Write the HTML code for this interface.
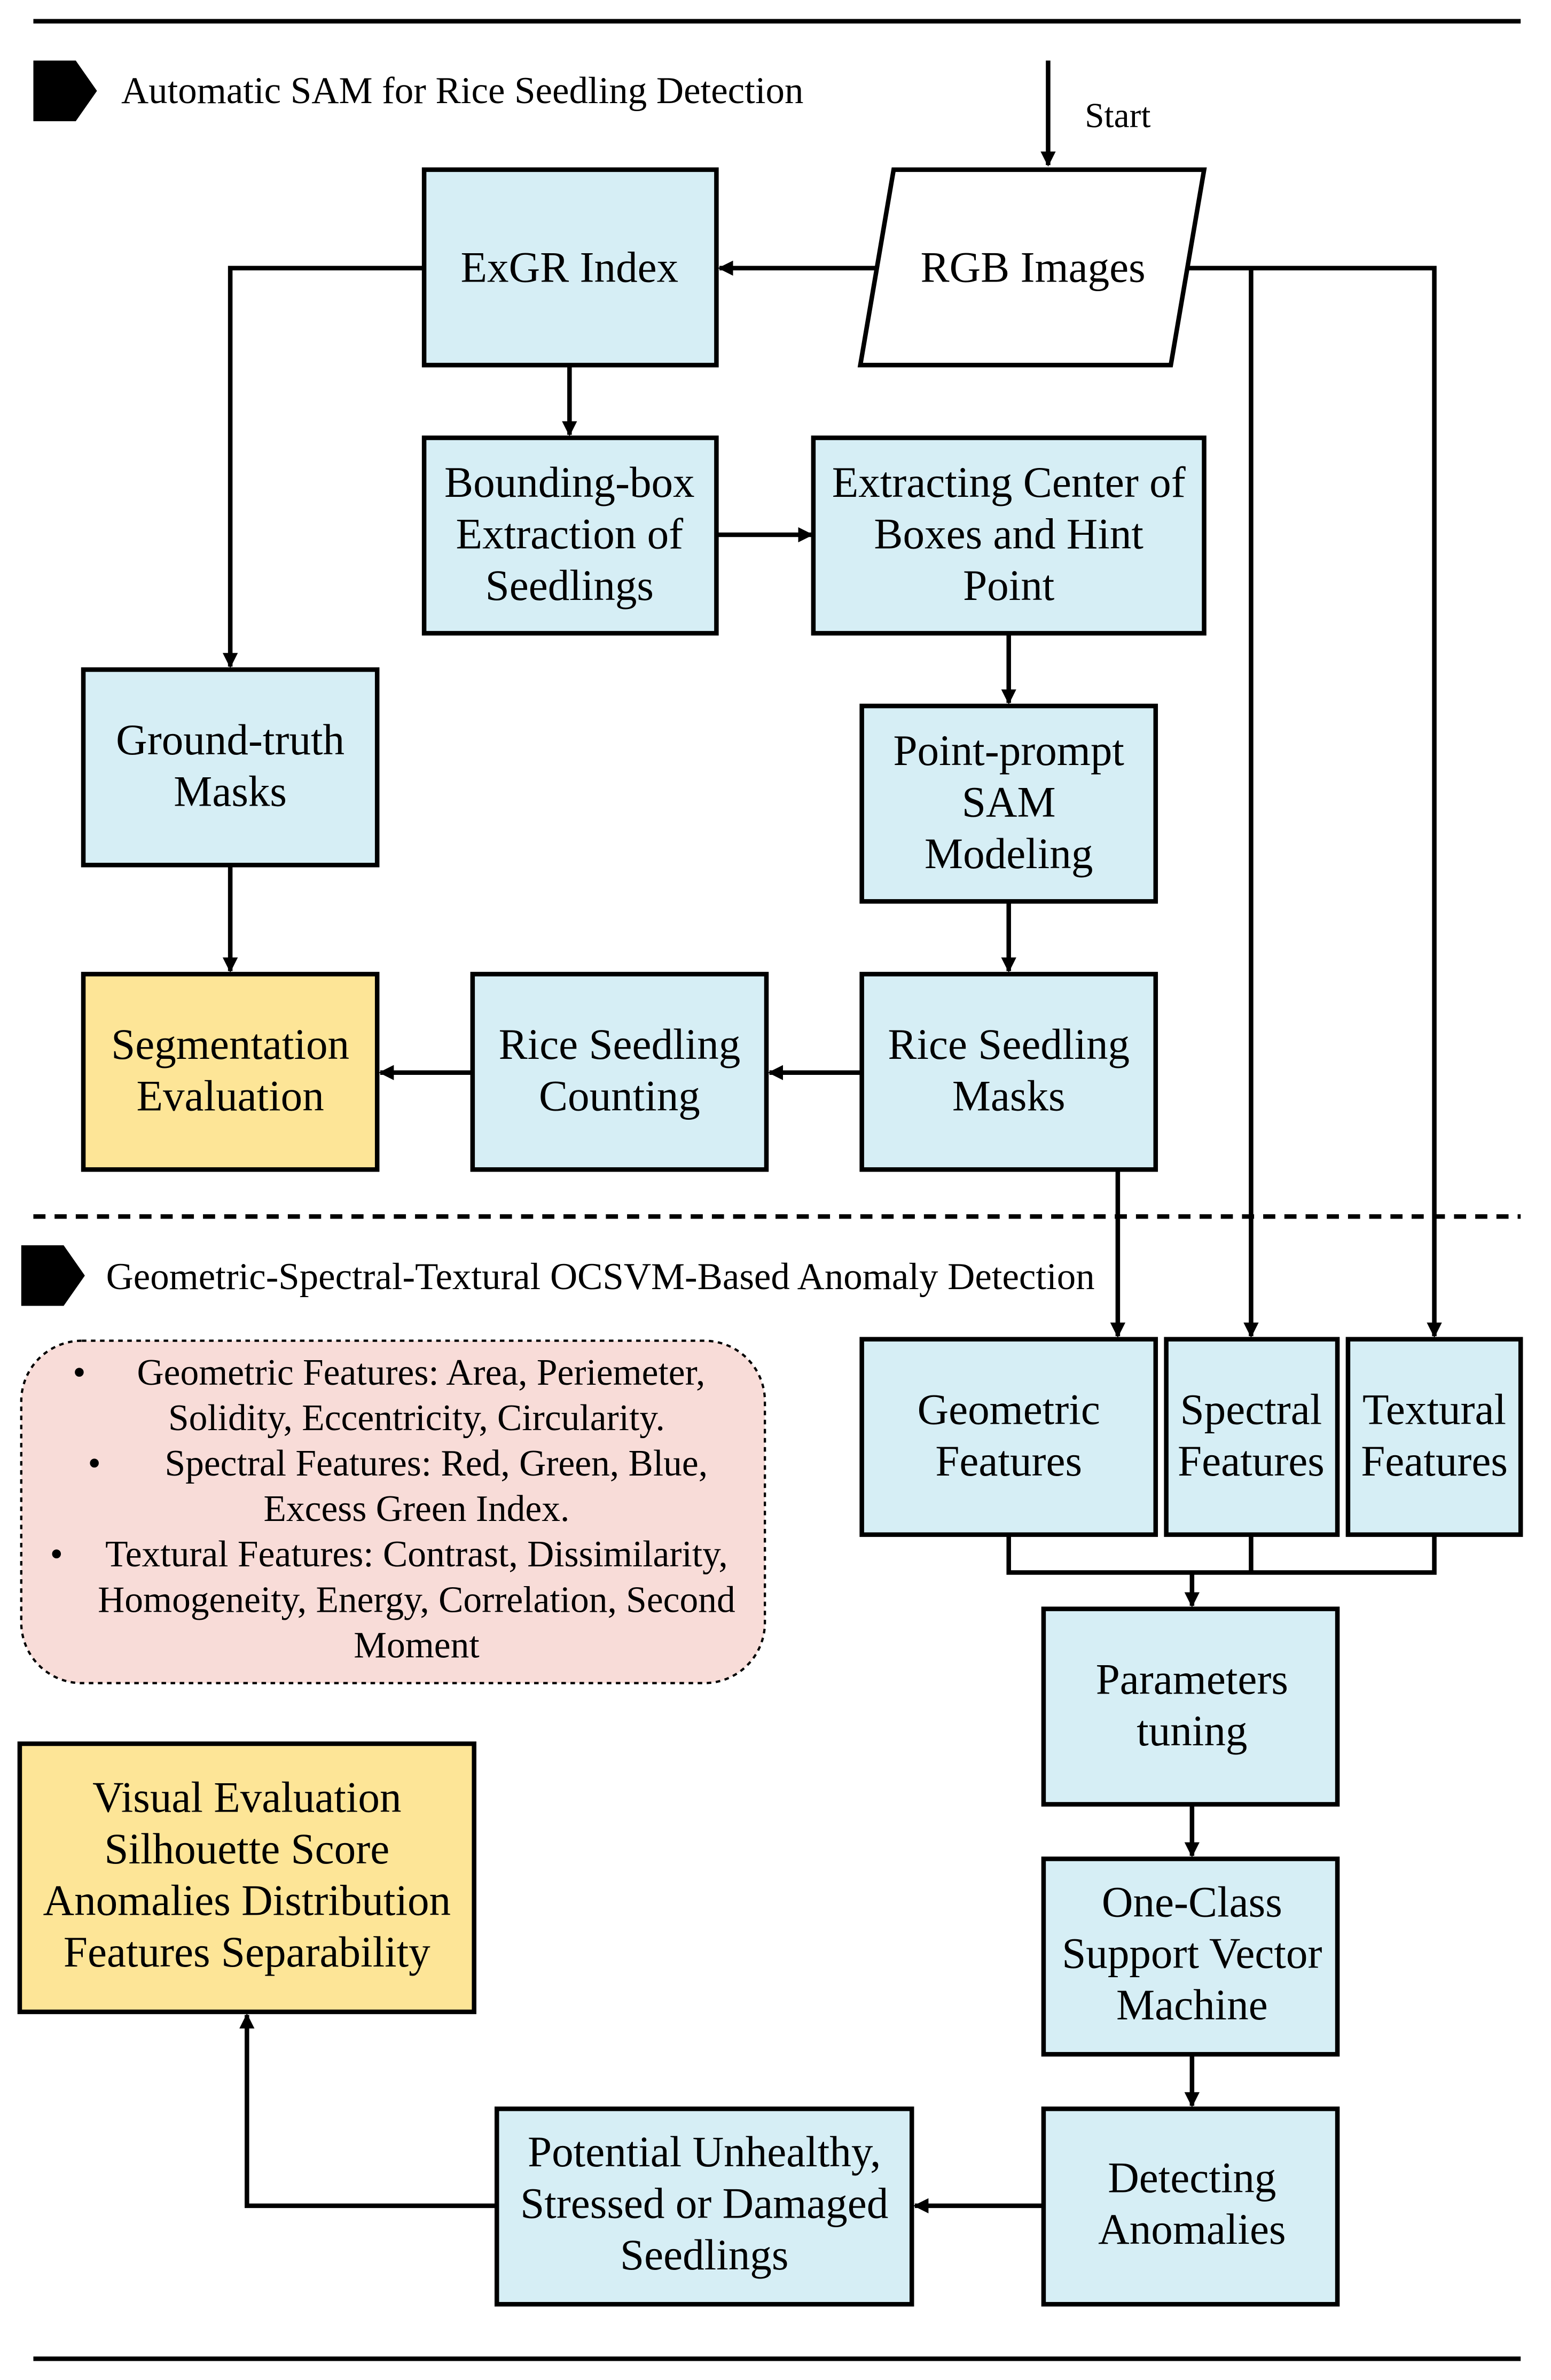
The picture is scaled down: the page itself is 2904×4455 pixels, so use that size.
<!DOCTYPE html>
<html><head><meta charset="utf-8"><style>
html,body{margin:0;padding:0;background:#fff;}
svg{display:block;}
text{font-family:"Liberation Serif",serif;fill:#000;}
.b{font-size:28.6px;text-anchor:middle;}
.s{font-size:24.5px;text-anchor:middle;}
.d{font-size:24.5px;}
</style></head><body>
<svg width="2904" height="4455" viewBox="0 0 1024 1571" xmlns="http://www.w3.org/2000/svg">
<defs><marker id="a" markerWidth="10" markerHeight="10" refX="9" refY="5" orient="auto" markerUnits="userSpaceOnUse"><path d="M0,0 L10,5 L0,10 z" fill="#000"/></marker></defs>
<rect width="1024" height="1571" fill="#fff"/>
<line x1="22" y1="14" x2="1004" y2="14" stroke="#000" stroke-width="3"/>
<line x1="22" y1="1557" x2="1004" y2="1557" stroke="#000" stroke-width="3"/>
<line x1="22" y1="803" x2="1004" y2="803" stroke="#000" stroke-width="3" stroke-dasharray="8,6"/>
<polygon points="22,40 50,40 64,60 50,80 22,80" fill="#000"/>
<text x="80" y="68" style="font-size:25px">Automatic SAM for Rice Seedling Detection</text>
<polygon points="14,822 42,822 56,842 42,862 14,862" fill="#000"/>
<text x="70" y="851" style="font-size:25px">Geometric-Spectral-Textural OCSVM-Based Anomaly Detection</text>
<g stroke="#000" stroke-width="3" fill="none">
<line x1="692" y1="40" x2="692" y2="109" marker-end="url(#a)"/>
<line x1="580" y1="177" x2="475" y2="177" marker-end="url(#a)"/>
<polyline points="280,177 152,177 152,440" marker-end="url(#a)"/>
<polyline points="785,177 947,177 947,882" marker-end="url(#a)"/>
<line x1="826" y1="177" x2="826" y2="882" marker-end="url(#a)"/>
<line x1="376" y1="241" x2="376" y2="287" marker-end="url(#a)"/>
<line x1="473" y1="353" x2="536" y2="353" marker-end="url(#a)"/>
<line x1="666" y1="418" x2="666" y2="464" marker-end="url(#a)"/>
<line x1="666" y1="595" x2="666" y2="641" marker-end="url(#a)"/>
<line x1="152" y1="571" x2="152" y2="641" marker-end="url(#a)"/>
<line x1="569" y1="708" x2="508" y2="708" marker-end="url(#a)"/>
<line x1="312" y1="708" x2="251" y2="708" marker-end="url(#a)"/>
<line x1="738" y1="772" x2="738" y2="882" marker-end="url(#a)"/>
<polyline points="666,1013 666,1038 947,1038 947,1013"/>
<line x1="826" y1="1013" x2="826" y2="1038"/>
<line x1="787" y1="1038" x2="787" y2="1060" marker-end="url(#a)"/>
<line x1="787" y1="1191" x2="787" y2="1225" marker-end="url(#a)"/>
<line x1="787" y1="1356" x2="787" y2="1390" marker-end="url(#a)"/>
<line x1="689" y1="1456" x2="604" y2="1456" marker-end="url(#a)"/>
<polyline points="328,1456 163,1456 163,1330" marker-end="url(#a)"/>
</g>
<g stroke="#000" stroke-width="3" fill="#d6eef5">
<polygon points="590,112 795,112 773,241 568,241" fill="#fff"/>
<rect x="280" y="112" width="193" height="129"/>
<rect x="280" y="289" width="193" height="129"/>
<rect x="537" y="289" width="258" height="129"/>
<rect x="569" y="466" width="194" height="129"/>
<rect x="55" y="442" width="194" height="129"/>
<rect x="55" y="643" width="194" height="129" fill="#fde597"/>
<rect x="312" y="643" width="194" height="129"/>
<rect x="569" y="643" width="194" height="129"/>
<rect x="569" y="884" width="194" height="129"/>
<rect x="770" y="884" width="113" height="129"/>
<rect x="890" y="884" width="114" height="129"/>
<rect x="689" y="1062" width="194" height="129"/>
<rect x="689" y="1227" width="194" height="129"/>
<rect x="689" y="1392" width="194" height="129"/>
<rect x="328" y="1392" width="274" height="129"/>
<rect x="13" y="1151" width="300" height="177" fill="#fde597"/>
</g>
<rect x="14" y="885" width="491" height="226" rx="40" fill="#f8dcd8" stroke="#000" stroke-width="1.5" stroke-dasharray="3,3"/>
<text x="738" y="84" style="font-size:23px;text-anchor:middle">Start</text>
<text class="b" x="682" y="186">RGB Images</text>
<text class="b" x="376" y="186">ExGR Index</text>
<text class="b" x="376" y="328">Bounding-box</text><text class="b" x="376" y="362">Extraction of</text><text class="b" x="376" y="396">Seedlings</text>
<text class="b" x="666" y="328">Extracting Center of</text><text class="b" x="666" y="362">Boxes and Hint</text><text class="b" x="666" y="396">Point</text>
<text class="b" x="666" y="505">Point-prompt</text><text class="b" x="666" y="539">SAM</text><text class="b" x="666" y="573">Modeling</text>
<text class="b" x="152" y="498">Ground-truth</text><text class="b" x="152" y="532">Masks</text>
<text class="b" x="152" y="699">Segmentation</text><text class="b" x="152" y="733">Evaluation</text>
<text class="b" x="409" y="699">Rice Seedling</text><text class="b" x="409" y="733">Counting</text>
<text class="b" x="666" y="699">Rice Seedling</text><text class="b" x="666" y="733">Masks</text>
<text class="b" x="666" y="940">Geometric</text><text class="b" x="666" y="974">Features</text>
<text class="b" x="826" y="940">Spectral</text><text class="b" x="826" y="974">Features</text>
<text class="b" x="947" y="940">Textural</text><text class="b" x="947" y="974">Features</text>
<text class="b" x="787" y="1118">Parameters</text><text class="b" x="787" y="1152">tuning</text>
<text class="b" x="787" y="1265">One-Class</text><text class="b" x="787" y="1299">Support Vector</text><text class="b" x="787" y="1333">Machine</text>
<text class="b" x="787" y="1447">Detecting</text><text class="b" x="787" y="1481">Anomalies</text>
<text class="b" x="465" y="1430">Potential Unhealthy,</text><text class="b" x="465" y="1464">Stressed or Damaged</text><text class="b" x="465" y="1498">Seedlings</text>
<text class="b" x="163" y="1196">Visual Evaluation</text><text class="b" x="163" y="1230">Silhouette Score</text><text class="b" x="163" y="1264">Anomalies Distribution</text><text class="b" x="163" y="1298">Features Separability</text>
<text class="d" x="48" y="914">•</text><text class="s" x="278" y="914">Geometric Features: Area, Periemeter,</text>
<text class="s" x="275" y="944">Solidity, Eccentricity, Circularity.</text>
<text class="d" x="58" y="974">•</text><text class="s" x="288" y="974">Spectral Features: Red, Green, Blue,</text>
<text class="s" x="275" y="1004">Excess Green Index.</text>
<text class="d" x="33" y="1034">•</text><text class="s" x="275" y="1034">Textural Features: Contrast, Dissimilarity,</text>
<text class="s" x="275" y="1064">Homogeneity, Energy, Correlation, Second</text>
<text class="s" x="275" y="1094">Moment</text>
</svg>
</body></html>
